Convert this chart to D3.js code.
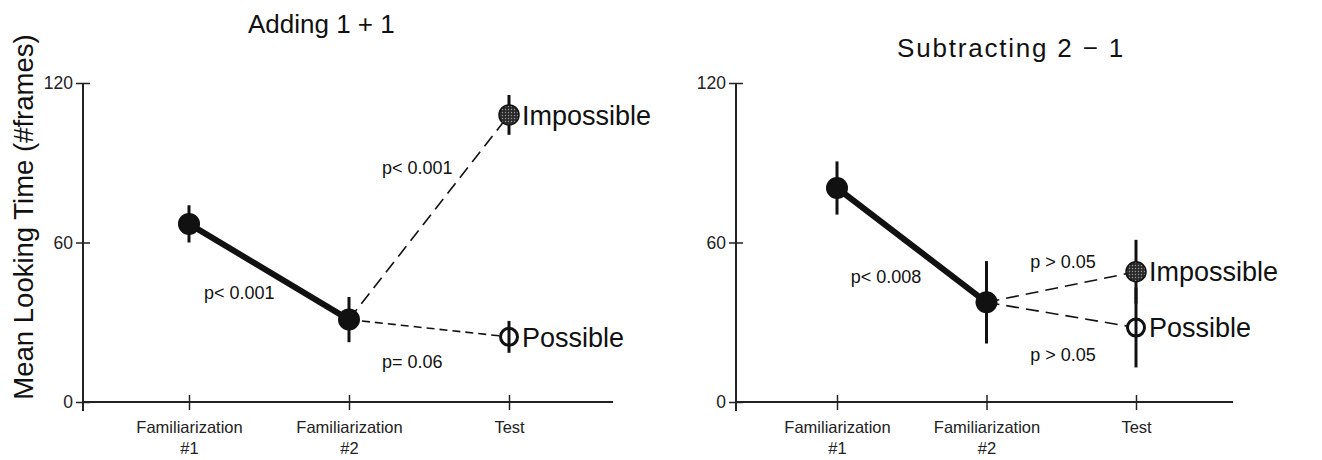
<!DOCTYPE html>
<html>
<head>
<meta charset="utf-8">
<script src="https://cdn.jsdelivr.net/npm/d3@7"></script>
<style>
  body { margin: 0; background: #fff; }
  svg { display: block; font-family: "Liberation Sans", Arial, sans-serif; }
  .tick text { fill: #222; }
</style>
</head>
<body>
<svg id="chart" width="1322" height="460"></svg>
<script>
// Данные
const stages = ["Familiarization\n#1", "Familiarization\n#2", "Test"];
const yTicks = [0, 60, 120];
const outcomes = ["Impossible", "Possible"];

const addFamMeans = [67, 31];
const addFamErr = [7, 8.5];
const addTestMeans = [108, 24.5];
const addTestErr = [7.5, 6];
const addPLabels = ["p< 0.001", "p< 0.001", "p= 0.06"];

const subFamMeans = [80.5, 37.5];
const subFamErr = [10, 15.5];
const subTestMeans = [49, 28];
const subTestErr = [12, 15];
const subPLabels = ["p< 0.008", "p > 0.05", "p > 0.05"];

const svg = d3.select("#chart");

// узор для "Impossible"
const defs = svg.append("defs");
const pat = defs.append("pattern")
    .attr("id", "stipple")
    .attr("width", 3).attr("height", 3)
    .attr("patternUnits", "userSpaceOnUse");
pat.append("rect").attr("width", 3).attr("height", 3).attr("fill", "#2a2a2a");
pat.append("circle").attr("cx", 1.5).attr("cy", 1.5).attr("r", 0.7).attr("fill", "#9a9a9a");

const panels = [
    {
        title: "Adding 1 + 1", titleX: 248, titleY: 33, titleSpacing: 0,
        ox: 83, width: 530, xRange: [106, 426],
        famMeans: addFamMeans, famErr: addFamErr,
        testMeans: addTestMeans, testErr: addTestErr,
        pLabels: addPLabels,
        dashes: ["13,7", "8,5"],
        pOffsets: [[-65, 21], [-47, -50], [-47, 33]]
    },
    {
        title: "Subtracting 2 \u2212 1", titleX: 897, titleY: 57, titleSpacing: 1.8,
        ox: 736, width: 497, xRange: [101, 400],
        famMeans: subFamMeans, famErr: subFamErr,
        testMeans: subTestMeans, testErr: subTestErr,
        pLabels: subPLabels,
        dashes: ["13,7", "13,7"],
        pOffsets: [[-61, 31], [-31, -26], [-31, 40]]
    }
];

const yTop = 83, yBottom = 402;
const y = d3.scaleLinear().domain([0, 120]).range([yBottom, yTop]);

panels.forEach(p => {
    const x = d3.scalePoint().domain(stages).range(p.xRange.map(v => v + p.ox));

    svg.append("text")
        .attr("x", p.titleX).attr("y", p.titleY)
        .attr("font-size", 26)
        .attr("letter-spacing", p.titleSpacing)
        .attr("fill", "#111")
        .text(p.title);

    // ось Y
    const yAxis = svg.append("g")
        .attr("transform", `translate(${p.ox},0)`)
        .call(d3.axisLeft(y).tickValues(yTicks).tickSize(7).tickPadding(3));
    yAxis.select(".domain").remove();
    yAxis.selectAll(".tick line").attr("x1", 7).attr("stroke", "#222").attr("stroke-width", 1.5);
    yAxis.selectAll(".tick text").attr("font-size", 17.5).attr("font-family", "Liberation Sans, Arial, sans-serif");
    svg.append("line")
        .attr("x1", p.ox).attr("x2", p.ox)
        .attr("y1", yTop).attr("y2", yBottom + 9)
        .attr("stroke", "#222").attr("stroke-width", 2);

    // ось X
    const xAxis = svg.append("g")
        .attr("transform", `translate(0,${yBottom})`)
        .call(d3.axisBottom(x).tickSize(8).tickPadding(11));
    xAxis.select(".domain").remove();
    xAxis.selectAll(".tick line").attr("y1", -7).attr("stroke", "#222").attr("stroke-width", 1.5);
    xAxis.selectAll(".tick text")
        .attr("font-size", 16.5)
        .attr("font-family", "Liberation Sans, Arial, sans-serif")
        .text(null)
        .each(function(d) {
            const t = d3.select(this);
            d.split("\n").forEach((s, i) => {
                t.append("tspan").attr("x", 0).attr("dy", i === 0 ? "0.71em" : "1.3em").text(s);
            });
        });
    svg.append("line")
        .attr("x1", p.ox).attr("x2", p.ox + p.width)
        .attr("y1", yBottom).attr("y2", yBottom)
        .attr("stroke", "#222").attr("stroke-width", 2);

    const f1 = [x(stages[0]), y(p.famMeans[0])];
    const f2 = [x(stages[1]), y(p.famMeans[1])];
    const tests = p.testMeans.map(v => [x(stages[2]), y(v)]);

    // линии
    svg.append("line")
        .attr("x1", f1[0]).attr("y1", f1[1]).attr("x2", f2[0]).attr("y2", f2[1])
        .attr("stroke", "#111").attr("stroke-width", 6);
    tests.forEach((t, i) => {
        svg.append("line")
            .attr("x1", f2[0]).attr("y1", f2[1]).attr("x2", t[0]).attr("y2", t[1])
            .attr("stroke", "#111").attr("stroke-width", 1.6)
            .attr("stroke-dasharray", p.dashes[i]);
    });

    // планки погрешностей
    const errBar = (cx, m, e) => svg.append("line")
        .attr("x1", cx).attr("x2", cx)
        .attr("y1", y(m + e)).attr("y2", y(m - e))
        .attr("stroke", "#111").attr("stroke-width", 3);

    p.famMeans.forEach((m, i) => errBar(x(stages[i]), m, p.famErr[i]));
    errBar(tests[0][0], p.testMeans[0], p.testErr[0]);

    // точки
    p.famMeans.forEach((m, i) => {
        svg.append("circle")
            .attr("cx", x(stages[i])).attr("cy", y(m)).attr("r", 11)
            .attr("fill", "#111");
    });
    svg.append("circle")
        .attr("cx", tests[0][0]).attr("cy", tests[0][1]).attr("r", 10)
        .attr("fill", "url(#stipple)").attr("stroke", "#111").attr("stroke-width", 1.5);
    svg.append("circle")
        .attr("cx", tests[1][0]).attr("cy", tests[1][1]).attr("r", 8.5)
        .attr("fill", "#fff").attr("stroke", "#111").attr("stroke-width", 3);
    errBar(tests[1][0], p.testMeans[1], p.testErr[1]);

    // подписи исходов
    outcomes.forEach((o, i) => {
        svg.append("text")
            .attr("x", tests[i][0] + 13).attr("y", tests[i][1])
            .attr("dy", "0.36em")
            .attr("font-size", 27)
            .attr("fill", "#111")
            .text(o);
    });

    // p-значения
    const segs = [[f1, f2], [f2, tests[0]], [f2, tests[1]]];
    segs.forEach((s, i) => {
        const mx = (s[0][0] + s[1][0]) / 2, my = (s[0][1] + s[1][1]) / 2;
        svg.append("text")
            .attr("x", mx + p.pOffsets[i][0]).attr("y", my + p.pOffsets[i][1])
            .attr("dy", "0.36em")
            .attr("font-size", 18)
            .attr("fill", "#111")
            .text(p.pLabels[i]);
    });
});

// подпись оси Y
svg.append("text")
    .attr("transform", "translate(33,217) rotate(-90)")
    .attr("text-anchor", "middle")
    .attr("font-size", 27.5)
    .attr("fill", "#111")
    .text("Mean Looking Time (#frames)");
</script>
</body>
</html>
